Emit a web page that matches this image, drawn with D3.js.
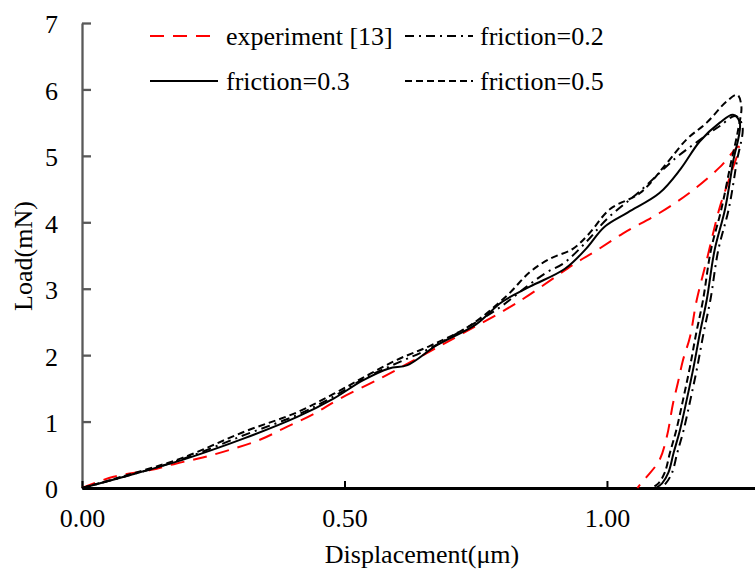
<!DOCTYPE html>
<html lang="en">
<head>
    <meta charset="UTF-8">
    <title>Load - displacement</title>
    <script src="https://cdn.jsdelivr.net/npm/d3@7"></script>
    <style>
        body { margin: 0; background: #fff; }
        svg text { font-family: "Liberation Serif", "Times New Roman", Times, "DejaVu Serif", serif; }
    </style>
</head>
<body>
<script type="application/javascript">
    // [displacement (um), load (mN)], loading then unloading
    const experiment = [
        [0, 0], [0.06, 0.17], [0.13, 0.27], [0.18, 0.37], [0.23, 0.46], [0.28, 0.57],
        [0.34, 0.73], [0.39, 0.92], [0.44, 1.11], [0.49, 1.34], [0.573, 1.67], [0.65, 2.0],
        [0.726, 2.33], [0.829, 2.79], [0.943, 3.4], [0.973, 3.54], [1.03, 3.83], [1.1, 4.14],
        [1.16, 4.46], [1.215, 4.83], [1.251, 5.14],
        [1.234, 4.68], [1.215, 4.23], [1.19, 3.43], [1.171, 2.83], [1.158, 2.27],
        [1.145, 1.93], [1.135, 1.58], [1.126, 1.28], [1.114, 0.77], [1.1, 0.42],
        [1.076, 0.17], [1.063, 0.05], [1.058, 0]
    ];
    const friction02 = [
        [0, 0], [0.08, 0.17], [0.19, 0.43], [0.31, 0.8], [0.41, 1.1], [0.48, 1.38],
        [0.54, 1.66], [0.6, 1.88], [0.657, 2.08], [0.73, 2.4], [0.796, 2.72], [0.85, 3.05],
        [0.886, 3.25], [0.917, 3.38], [0.96, 3.7], [1.0, 4.05], [1.063, 4.47], [1.133, 4.98],
        [1.177, 5.24], [1.215, 5.45], [1.245, 5.6], [1.258, 5.45],
        [1.247, 4.9], [1.232, 4.2], [1.212, 3.58], [1.197, 2.83], [1.184, 2.33],
        [1.172, 1.82], [1.159, 1.33], [1.146, 0.87], [1.134, 0.53], [1.124, 0.23],
        [1.112, 0.07], [1.1, 0]
    ];
    const friction03 = [
        [0, 0], [0.08, 0.17], [0.19, 0.42], [0.31, 0.75], [0.41, 1.07], [0.48, 1.35],
        [0.535, 1.62], [0.585, 1.8], [0.62, 1.85], [0.676, 2.15], [0.75, 2.46], [0.8, 2.8],
        [0.853, 3.03], [0.92, 3.3], [0.96, 3.6], [0.995, 3.93], [1.04, 4.15], [1.1, 4.44],
        [1.14, 4.8], [1.177, 5.22], [1.215, 5.5], [1.24, 5.62], [1.253, 5.5],
        [1.24, 4.9], [1.225, 4.2], [1.205, 3.58], [1.19, 2.83], [1.177, 2.33],
        [1.165, 1.82], [1.152, 1.33], [1.139, 0.87], [1.127, 0.53], [1.117, 0.23],
        [1.105, 0.07], [1.093, 0]
    ];
    const friction05 = [
        [0, 0], [0.08, 0.18], [0.19, 0.45], [0.31, 0.85], [0.41, 1.14], [0.48, 1.42],
        [0.54, 1.68], [0.6, 1.93], [0.663, 2.14], [0.74, 2.45], [0.81, 2.9], [0.853, 3.25],
        [0.891, 3.45], [0.935, 3.6], [0.965, 3.82], [1.006, 4.2], [1.063, 4.44], [1.114, 4.89],
        [1.152, 5.25], [1.19, 5.5], [1.228, 5.82], [1.248, 5.92], [1.256, 5.75],
        [1.25, 5.4], [1.235, 4.85], [1.218, 4.2], [1.198, 3.58], [1.183, 2.83], [1.17, 2.33],
        [1.158, 1.82], [1.145, 1.33], [1.132, 0.87], [1.12, 0.53], [1.11, 0.23],
        [1.098, 0.07], [1.085, 0]
    ];
    const seriesNames = ['experiment [13]', 'friction=0.2', 'friction=0.3', 'friction=0.5'];
    const xTicks = [0, 0.5, 1.0];
    const yTicks = [0, 1, 2, 3, 4, 5, 6, 7];

    const w = 755, h = 572, fontSize = 26;
    const fontFamily = '"Liberation Serif", "Times New Roman", Times, "DejaVu Serif", serif';
    const series = [
        { name: seriesNames[0], data: experiment, color: '#ff0000', dash: '14,9' },
        { name: seriesNames[1], data: friction02, color: '#000', dash: '9,5,2,5' },
        { name: seriesNames[2], data: friction03, color: '#000', dash: null },
        { name: seriesNames[3], data: friction05, color: '#000', dash: '7,4' }
    ];

    let svg = d3.select('body')
        .append('svg')
        .attr('width', w)
        .attr('height', h)
        .attr('font-family', fontFamily);

    let xScale = d3.scaleLinear().domain([0, 1.282]).range([82, 755]);
    let yScale = d3.scaleLinear().domain([0, 7]).range([488, 23]);

    // y 轴
    let yAxis = svg.append('g')
        .attr('transform', 'translate(82,0)')
        .call(d3.axisLeft(yScale).tickValues(yTicks).tickFormat(d3.format('d'))
            .tickSizeInner(-9).tickSizeOuter(0).tickPadding(24))
        .attr('font-family', fontFamily);
    yAxis.select('.domain').attr('stroke', '#595959').attr('stroke-width', 2.3);
    yAxis.selectAll('.tick line').attr('stroke', '#595959').attr('stroke-width', 2.3);
    yAxis.selectAll('.tick text')
        .attr('font-size', fontSize + 'px')
        .attr('fill', '#000')
        .attr('dy', '0.38em');

    // x 轴
    let xAxis = svg.append('g')
        .attr('transform', 'translate(0,488)')
        .call(d3.axisBottom(xScale).tickValues(xTicks).tickFormat(d3.format('.2f'))
            .tickSizeInner(-7).tickSizeOuter(0).tickPadding(21))
        .attr('font-family', fontFamily);
    xAxis.select('.domain').attr('stroke', '#000').attr('stroke-width', 3);
    xAxis.selectAll('.tick line').attr('stroke', '#000').attr('stroke-width', 2);
    xAxis.selectAll('.tick text')
        .attr('font-size', fontSize + 'px')
        .attr('fill', '#000');

    // 曲线
    let line = d3.line()
        .x(d => xScale(d[0]))
        .y(d => yScale(d[1]))
        .curve(d3.curveCatmullRom.alpha(0.5));

    svg.selectAll('path.curve')
        .data(series)
        .enter()
        .append('path')
        .attr('class', 'curve')
        .attr('d', d => line(d.data))
        .attr('fill', 'none')
        .attr('stroke', d => d.color)
        .attr('stroke-width', 2)
        .attr('stroke-dasharray', d => d.dash);

    // 图例
    let legend = svg.selectAll('g.legend')
        .data(series)
        .enter()
        .append('g')
        .attr('class', 'legend')
        .attr('transform', (d, i) => 'translate(' + (i % 2 === 0 ? 150 : 405) + ',' + (i < 2 ? 36 : 81) + ')');
    legend.append('line')
        .attr('x1', 0).attr('x2', 68)
        .attr('stroke', d => d.color)
        .attr('stroke-width', 2)
        .attr('stroke-dasharray', d => d.dash);
    legend.append('text')
        .attr('x', (d, i) => i % 2 === 0 ? 76 : 75)
        .attr('y', 9)
        .attr('font-size', fontSize + 'px')
        .text(d => d.name);

    // 坐标轴标题
    svg.append('text')
        .attr('x', 422)
        .attr('y', 563)
        .attr('text-anchor', 'middle')
        .attr('font-size', fontSize + 'px')
        .text('Displacement(μm)');
    svg.append('text')
        .attr('transform', 'translate(32,256) rotate(-90)')
        .attr('text-anchor', 'middle')
        .attr('font-size', fontSize + 'px')
        .text('Load(mN)');
</script>
</body>
</html>
